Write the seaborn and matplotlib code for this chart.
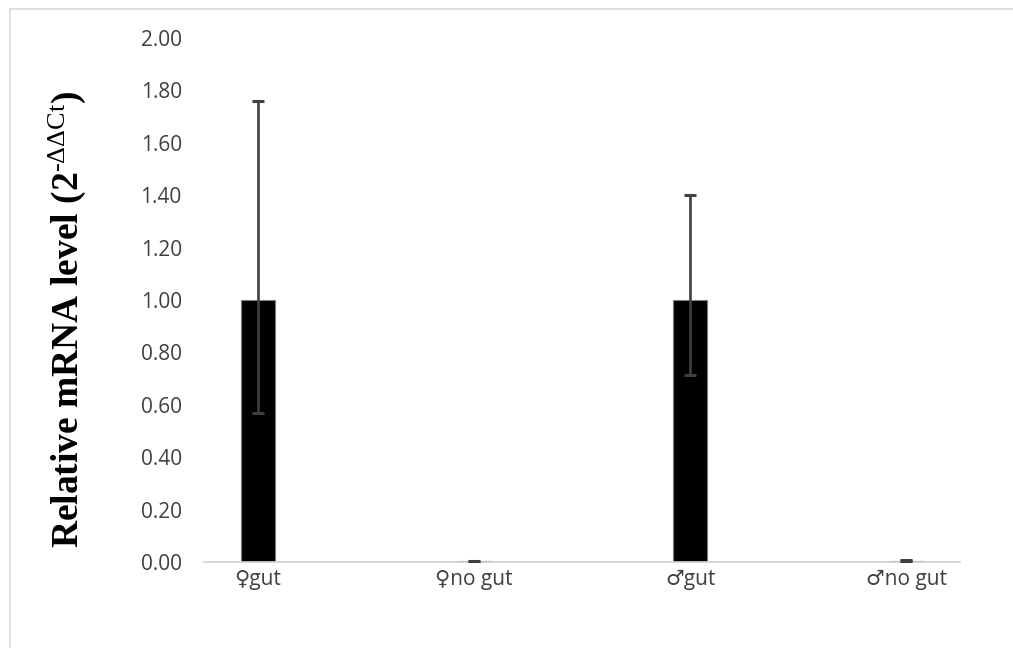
import matplotlib
matplotlib.use("Agg")
import matplotlib.pyplot as plt
import seaborn as sns
import pandas as pd
from matplotlib.patches import Rectangle

# Relative expression values (2^-ddCt) with asymmetric error ranges
categories = ["♀gut", "♀no gut", "♂gut", "♂no gut"]
values = [1.00, 0.003, 1.00, 0.004]
err_low = [0.43, 0.002, 0.285, 0.002]
err_high = [0.76, 0.002, 0.40, 0.002]
y_ticks = [0.0, 0.2, 0.4, 0.6, 0.8, 1.0, 1.2, 1.4, 1.6, 1.8, 2.0]

sns.set_theme(style="white")
plt.rcParams["font.family"] = ["Open Sans", "DejaVu Sans"]
plt.rcParams["mathtext.fontset"] = "custom"
plt.rcParams["mathtext.rm"] = "Liberation Serif"
plt.rcParams["mathtext.it"] = "Liberation Serif:italic"
plt.rcParams["mathtext.bf"] = "Liberation Serif:bold"

df = pd.DataFrame({"group": categories, "level": values})

fig = plt.figure(figsize=(10.13, 6.48), dpi=100)
ax = fig.add_axes([0.2014, 0.1327, 0.7463, 0.8087])

sns.barplot(data=df, x="group", y="level", color="black", width=0.155,
            errorbar=None, edgecolor="#7f7f7f", linewidth=0.8, ax=ax,
            saturation=1)

ax.errorbar(range(len(categories)), values, yerr=[err_low, err_high],
            fmt="none", ecolor="#404040", elinewidth=1.9, capsize=4.5,
            capthick=2.2, zorder=3)

ax.set_xlim(-0.25, 3.25)
ax.set_ylim(0, 2.0)
ax.set_yticks(y_ticks)
ax.set_yticklabels([f"{t:.2f}" for t in y_ticks])
ax.tick_params(axis="both", length=0, labelsize=15, colors="#404040")
ax.tick_params(axis="y", pad=16)
ax.tick_params(axis="x", pad=5)
for lab in ax.get_xticklabels():
    lab.set_family(["Open Sans", "DejaVu Sans"])

for side in ["top", "right", "left"]:
    ax.spines[side].set_visible(False)
ax.spines["bottom"].set_color("#d0d0d0")
ax.spines["bottom"].set_linewidth(1.2)

ax.set_xlabel("")
ax.set_ylabel("Relative mRNA level (2$^{\\mathrm{\u2010\u0394\u0394Ct}}$)",
              family="Liberation Serif", fontweight="bold", fontsize=27,
              color="black")
ax.yaxis.set_label_coords(-0.153, 0.464)

# chart border
fig.patches.append(Rectangle((10 / 1013, -0.05), 1.2, 1 - 9 / 648 + 0.05,
                             transform=fig.transFigure, fill=False,
                             edgecolor="#d9d9d9", linewidth=1.2))

fig.savefig("out.png", dpi=100)
